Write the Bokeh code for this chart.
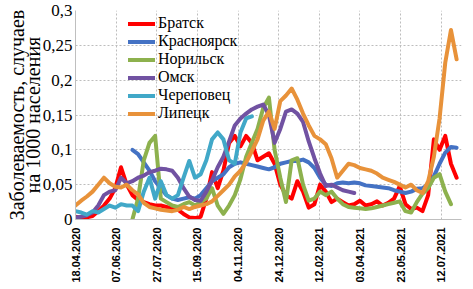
import numpy as np
import pandas as pd
from bokeh.plotting import figure
from bokeh.models import (FixedTicker, DatetimeTickFormatter, CustomJSTickFormatter,
                          Legend, LegendItem, Title, Range1d, ColumnDataSource)
from bokeh.embed import file_html
from bokeh.resources import INLINE

# ---------------- data ----------------
start_date = "2020-04-18"
step = "7D"
n_points = 68

tick_labels = ["18.04.2020", "07.06.2020", "27.07.2020", "15.09.2020", "04.11.2020",
               "24.12.2020", "12.02.2021", "03.04.2021", "23.05.2021", "12.07.2021"]
y_ticks = [0, 0.05, 0.1, 0.15, 0.2, 0.25, 0.3]

y_title = ["Заболеваемость, случаев", "на 1000 населения"]

names = ["Братск", "Красноярск", "Норильск", "Омск", "Череповец", "Липецк"]
colors = ["#FF0000", "#4472C4", "#8DB14E", "#7152A2", "#41A8C8", "#E8923A"]

bratsk = [0.004, 0.002, 0.003, 0.005, 0.012, 0.02, 0.03, 0.045, 0.075, 0.05,
          0.035, 0.028, 0.025, 0.022, 0.02, 0.02, 0.018, 0.016, 0.014, 0.008,
          0.003, 0.002, 0.004, 0.03, 0.068, 0.045, 0.07, 0.11, 0.12, 0.105,
          0.12, 0.11, 0.085, 0.09, 0.095, 0.08, 0.05, 0.035, 0.03, 0.055,
          0.04, 0.017, 0.022, 0.05, 0.04, 0.025, 0.03, 0.025, 0.02, 0.022,
          0.027, 0.02, 0.022, 0.026, 0.02, 0.024, 0.03, 0.048, 0.022, 0.015,
          0.017, 0.012, 0.035, 0.115, 0.1, 0.12, 0.08, 0.06]

krasnoyarsk = [None, None, None, None, None, None, None, None, None, None,
               0.1, 0.094, 0.082, 0.07, 0.055, 0.045, 0.035, 0.03, 0.028, 0.03,
               0.032, 0.03, 0.035, 0.045, 0.055, 0.06, 0.065, 0.075, 0.08, 0.082,
               0.08, 0.078, 0.076, 0.074, 0.072, 0.075, 0.08, 0.082, 0.084, 0.084,
               0.086, 0.082, 0.074, 0.06, 0.05, 0.048, 0.052, 0.053, 0.052, 0.053,
               0.052, 0.049, 0.048, 0.047, 0.046, 0.045, 0.042, 0.04, 0.038, 0.04,
               0.044, 0.045, 0.05, 0.062, 0.08, 0.096, 0.104, 0.103]

norilsk = [None, None, None, None, None, None, None, None, None, None,
           0.0, 0.03, 0.085, 0.11, 0.12, 0.03, 0.025, 0.02, 0.018, 0.022,
           0.025, 0.02, 0.025, 0.03, 0.045, 0.02, 0.008, 0.02, 0.035, 0.058,
           0.09, 0.11, 0.13, 0.16, 0.175, 0.1, 0.06, 0.025, 0.085, 0.088,
           0.05, 0.027, 0.03, 0.04, 0.035, 0.04, 0.03, 0.022, 0.018, 0.017,
           0.016, 0.015, 0.016, 0.018, 0.02, 0.022, 0.024, 0.026, 0.012, 0.01,
           0.025, 0.037, 0.045, 0.06, 0.065, 0.04, 0.022, None]

omsk = [0.003, 0.004, 0.006, 0.01, 0.02, 0.035, 0.04, 0.042, 0.06, 0.052,
        0.055, 0.06, 0.063, 0.068, 0.07, 0.073, 0.072, 0.07, 0.06, 0.045,
        0.033, 0.028, 0.027, 0.04, 0.056, 0.075, 0.09, 0.112, 0.135, 0.145,
        0.152, 0.158, 0.162, 0.165, 0.15, 0.11, 0.13, 0.155, 0.158, 0.152,
        0.14, 0.112, 0.088, 0.066, 0.048, 0.05, 0.046, 0.042, 0.04, 0.038,
        None, None, None, None, None, None, None, None, None, None,
        None, None, None, None, None, None, None, None]

cherepovets = [0.012, 0.01, 0.007, 0.012, 0.01, 0.015, 0.02, 0.017, 0.022, 0.02,
               0.02, 0.012, 0.04, 0.06, 0.03, 0.055, 0.035, 0.03, 0.035, 0.06,
               0.084, 0.06, 0.065, 0.085, 0.115, 0.125, 0.115, 0.085, 0.08, 0.125,
               0.145, 0.148, None, None, None, None, None, None, None, None,
               None, None, None, None, None, None, None, None, None, None,
               None, None, None, None, None, None, None, None, None, None,
               None, None, None, None, None, None, None, None]

lipetsk = [0.02, 0.027, 0.033, 0.04, 0.05, 0.06, 0.052, 0.047, 0.046, 0.05,
           0.042, 0.036, 0.024, 0.018, 0.016, 0.014, 0.013, 0.012, 0.014, 0.018,
           0.015, 0.018, 0.02, 0.022, 0.026, 0.034, 0.042, 0.05, 0.062, 0.07,
           0.082, 0.098, 0.115, 0.142, 0.155, 0.13, 0.17, 0.178, 0.188, 0.172,
           0.152, 0.135, 0.12, 0.115, 0.108, 0.088, 0.06, 0.07, 0.08, 0.078,
           0.074, 0.072, 0.07, 0.066, 0.06, 0.057, 0.054, 0.05, 0.046, 0.05,
           0.042, 0.038, 0.055, 0.09, 0.145, 0.225, 0.272, 0.23]

series = [bratsk, krasnoyarsk, norilsk, omsk, cherepovets, lipetsk]

# ---------------- figure ----------------
dates = pd.date_range(start_date, periods=n_points, freq=step)
x0 = pd.Timestamp(start_date)
x1 = x0 + pd.Timedelta(days=475)

p = figure(width=473, height=289, x_axis_type="datetime",
           output_backend="svg", toolbar_location=None,
           x_range=Range1d(x0, x1), y_range=Range1d(0, 0.3),
           min_border_left=75, min_border_right=12,
           min_border_top=10, min_border_bottom=70)
p.outline_line_color = None
p.background_fill_color = "white"
p.border_fill_color = "white"

items = []
for name, col, vals in zip(names, colors, series):
    src = ColumnDataSource(dict(x=dates, y=np.array(vals, dtype=float)))
    r = p.line("x", "y", source=src, line_color=col, line_width=4,
               line_join="round", line_cap="round")
    items.append(LegendItem(label=name, renderers=[r]))

# axes
tick_ms = [pd.to_datetime(t, format="%d.%m.%Y").value // 10**6 for t in tick_labels]
xt = FixedTicker(ticks=tick_ms)
p.xaxis.ticker = xt
p.xgrid.ticker = xt
fmt = "%d.%m.%Y"
p.xaxis.formatter = DatetimeTickFormatter(days=fmt, months=fmt, years=fmt, hours=fmt,
                                          hourmin=fmt, minutes=fmt, minsec=fmt,
                                          seconds=fmt, milliseconds=fmt, microseconds=fmt)
p.xaxis.major_label_orientation = np.pi / 2
p.xaxis.major_label_text_font = "Liberation Sans"
p.xaxis.major_label_text_font_style = "bold"
p.xaxis.major_label_text_font_size = "11px"
p.xaxis.major_label_text_color = "black"
p.xaxis.major_label_standoff = 8
p.xaxis.major_tick_line_color = None
p.xaxis.major_tick_out = 0
p.xaxis.minor_tick_line_color = None
p.xaxis.axis_line_color = "#BFBFBF"

yt = FixedTicker(ticks=y_ticks)
p.yaxis.ticker = yt
p.ygrid.ticker = yt
p.yaxis.formatter = CustomJSTickFormatter(
    code="return (Math.round(tick*100)/100).toString().replace('.', ',');")
p.yaxis.major_label_text_font = "Liberation Serif"
p.yaxis.major_label_text_font_size = "17px"
p.yaxis.major_label_text_color = "black"
p.yaxis.major_label_standoff = 3
p.yaxis.major_tick_line_color = None
p.yaxis.major_tick_out = 0
p.yaxis.minor_tick_line_color = None
p.yaxis.axis_line_color = "#BFBFBF"

for g in (p.xgrid, p.ygrid):
    g.grid_line_color = "#BDBDBD"
    g.grid_line_dash = "2 2"
    g.grid_line_width = 1

# y axis title (two lines), inner line first
for txt in (y_title[1], y_title[0]):
    p.add_layout(Title(text=txt, align="center", offset=40, standoff=-8,
                       text_font="Liberation Serif", text_font_size="20px",
                       text_font_style="normal", text_color="black"), "left")

legend = Legend(items=items, location=(53, 97), orientation="vertical",
                label_text_font="Liberation Serif", label_text_font_size="16px",
                label_text_color="black", label_height=17, glyph_height=17,
                glyph_width=27, label_standoff=3, spacing=0, padding=0, margin=0,
                border_line_color=None, background_fill_alpha=0)
p.add_layout(legend)

open("out.html", "w").write(file_html(p, INLINE))
